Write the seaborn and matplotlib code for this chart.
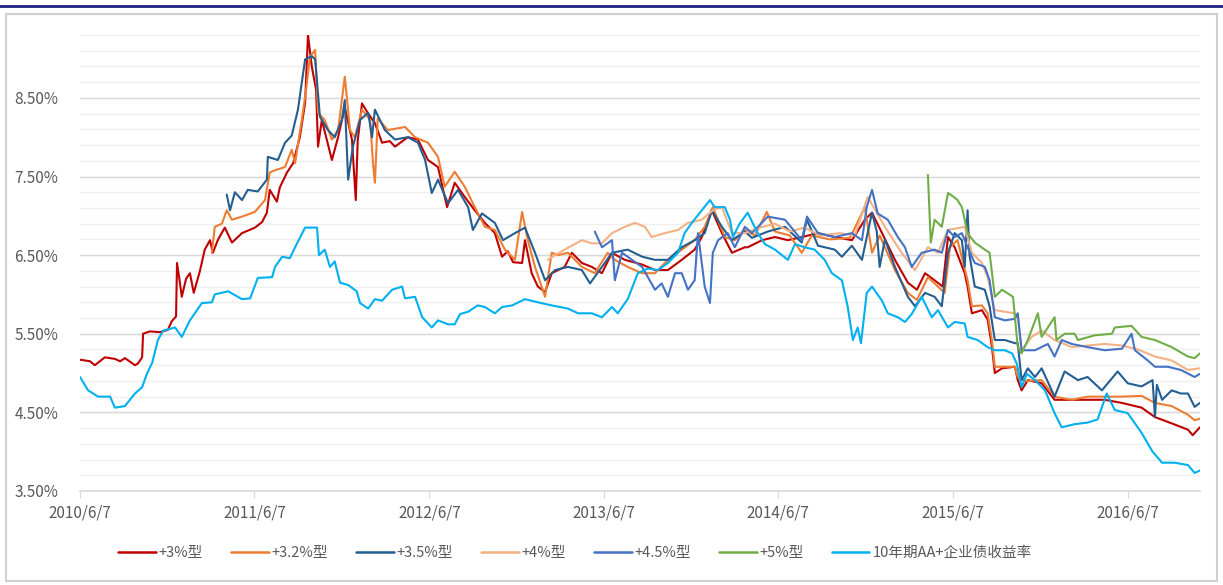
import numpy as np
import pandas as pd
import matplotlib
matplotlib.use("Agg")
import matplotlib.pyplot as plt
from matplotlib.patches import Rectangle
from matplotlib.lines import Line2D
import seaborn as sns

# days since 2010/6/7, yield in %
start = pd.Timestamp("2010-06-07")

s30 = [(0, 5.17), (21, 5.15), (31, 5.10), (52, 5.20), (73, 5.18), (84, 5.15), (94, 5.19), (115, 5.10),
       (121, 5.12), (130, 5.20), (132, 5.50), (146, 5.53), (167, 5.52), (184, 5.55), (192, 5.66), (201, 5.72),
       (203, 6.40), (209, 6.15), (213, 5.97), (222, 6.20), (230, 6.27), (238, 6.02), (251, 6.30), (261, 6.57),
       (272, 6.69), (278, 6.53), (289, 6.70), (303, 6.85), (318, 6.66), (339, 6.78), (366, 6.85), (381, 6.92),
       (391, 7.04), (397, 7.33), (412, 7.18), (418, 7.36), (433, 7.55), (446, 7.67), (460, 8.00), (471, 8.44),
       (477, 9.30), (485, 8.90), (494, 8.60), (498, 7.88), (506, 8.22), (517, 7.95), (527, 7.71), (540, 8.00),
       (554, 8.38), (569, 7.97), (577, 7.20), (581, 7.95), (590, 8.43), (603, 8.30), (617, 8.18), (632, 7.93),
       (648, 7.95), (659, 7.88), (686, 8.00), (707, 7.97), (728, 7.71), (749, 7.62), (768, 7.11), (784, 7.42),
       (805, 7.24), (826, 7.07), (847, 6.91), (868, 6.78), (883, 6.48), (895, 6.55), (906, 6.41), (925, 6.40),
       (931, 6.69), (945, 6.27), (958, 6.10), (973, 6.03), (987, 6.27), (1014, 6.35), (1029, 6.53), (1050, 6.40),
       (1071, 6.35), (1092, 6.27), (1113, 6.53), (1140, 6.44), (1176, 6.38), (1203, 6.31), (1230, 6.31),
       (1259, 6.44), (1286, 6.57), (1301, 6.73), (1322, 7.07), (1343, 6.78), (1364, 6.53), (1391, 6.60),
       (1397, 6.60), (1427, 6.69), (1454, 6.73), (1481, 6.69), (1510, 6.73), (1544, 6.78), (1579, 6.73),
       (1615, 6.69), (1642, 6.95), (1657, 7.04), (1678, 6.78), (1705, 6.44), (1732, 6.15), (1751, 6.06),
       (1768, 6.27), (1788, 6.18), (1805, 6.10), (1816, 6.73), (1830, 6.60), (1851, 6.27), (1857, 6.10),
       (1866, 5.76), (1887, 5.80), (1899, 5.68), (1908, 5.33), (1914, 5.00), (1929, 5.06), (1956, 5.08),
       (1962, 4.91), (1970, 4.78), (1983, 4.91), (2012, 4.87), (2039, 4.66), (2075, 4.66), (2108, 4.66),
       (2144, 4.66), (2180, 4.62), (2221, 4.56), (2249, 4.44), (2284, 4.36), (2318, 4.28), (2328, 4.21),
       (2343, 4.31)]

s32 = [(276, 6.53), (282, 6.86), (297, 6.90), (307, 7.07), (318, 6.95), (339, 6.99), (366, 7.05), (387, 7.20),
       (397, 7.55), (408, 7.58), (429, 7.62), (443, 7.84), (450, 7.67), (464, 8.22), (473, 8.60), (481, 9.02),
       (492, 9.11), (498, 8.31), (512, 8.22), (527, 7.97), (540, 8.09), (554, 8.77), (565, 8.09), (575, 8.00),
       (590, 8.35), (607, 8.22), (613, 7.67), (617, 7.42), (623, 8.24), (644, 8.09), (680, 8.13), (701, 8.00),
       (728, 7.93), (749, 7.75), (763, 7.37), (784, 7.56), (805, 7.37), (826, 7.11), (847, 6.86), (868, 6.82),
       (889, 6.57), (910, 6.44), (925, 7.05), (937, 6.69), (952, 6.35), (973, 5.97), (987, 6.53), (1000, 6.50),
       (1021, 6.53), (1050, 6.35), (1077, 6.27), (1104, 6.53), (1119, 6.44), (1146, 6.35), (1176, 6.27),
       (1203, 6.27), (1230, 6.44), (1259, 6.57), (1286, 6.69), (1307, 6.86), (1324, 7.11), (1349, 6.73),
       (1370, 6.69), (1391, 6.82), (1412, 6.75), (1437, 7.05), (1454, 6.80), (1485, 6.75), (1510, 6.53),
       (1531, 6.75), (1569, 6.70), (1611, 6.72), (1642, 7.11), (1657, 6.53), (1673, 6.75), (1705, 6.31),
       (1732, 6.02), (1751, 5.93), (1774, 6.22), (1795, 6.10), (1809, 6.02), (1820, 6.60), (1836, 6.69),
       (1857, 6.18), (1866, 5.85), (1887, 5.86), (1899, 5.76), (1908, 5.41), (1914, 5.08), (1956, 5.08),
       (1962, 4.95), (1977, 4.90), (2012, 4.91), (2039, 4.70), (2075, 4.66), (2108, 4.70), (2144, 4.70),
       (2180, 4.70), (2221, 4.71), (2249, 4.62), (2284, 4.58), (2318, 4.47), (2332, 4.40), (2343, 4.42)]

s35 = [(307, 7.27), (314, 7.07), (324, 7.30), (339, 7.20), (351, 7.33), (372, 7.31), (391, 7.46), (393, 7.75),
       (414, 7.71), (429, 7.93), (443, 8.02), (456, 8.35), (471, 8.99), (485, 9.03), (492, 8.99), (502, 8.26),
       (519, 8.09), (533, 8.00), (548, 8.22), (554, 8.47), (561, 7.46), (571, 7.88), (586, 8.22), (603, 8.31),
       (611, 8.00), (617, 8.35), (638, 8.09), (659, 7.97), (686, 8.00), (707, 7.93), (722, 7.71), (736, 7.29),
       (749, 7.46), (770, 7.16), (791, 7.33), (812, 7.11), (822, 6.82), (841, 7.03), (868, 6.91), (885, 6.69),
       (910, 6.78), (931, 6.85), (952, 6.53), (973, 6.18), (994, 6.31), (1021, 6.35), (1050, 6.31),
       (1067, 6.14), (1092, 6.35), (1113, 6.53), (1146, 6.57), (1176, 6.48), (1203, 6.44), (1230, 6.44),
       (1259, 6.60), (1286, 6.69), (1307, 6.78), (1322, 7.07), (1343, 6.86), (1364, 6.69), (1391, 6.80),
       (1406, 6.72), (1439, 6.80), (1475, 6.86), (1510, 6.66), (1521, 6.95), (1544, 6.62), (1579, 6.57),
       (1594, 6.48), (1615, 6.62), (1636, 6.44), (1657, 7.04), (1667, 6.80), (1673, 6.35), (1684, 6.70),
       (1705, 6.35), (1732, 5.97), (1747, 5.85), (1768, 6.02), (1788, 5.97), (1803, 5.85), (1816, 6.53),
       (1830, 6.78), (1845, 6.69), (1851, 6.35), (1857, 7.07), (1861, 6.50), (1872, 6.10), (1893, 6.06),
       (1903, 5.85), (1914, 5.42), (1935, 5.42), (1956, 5.38), (1962, 5.38), (1970, 4.91), (1983, 5.06),
       (1998, 4.95), (2012, 5.06), (2039, 4.70), (2060, 5.02), (2088, 4.91), (2108, 4.95), (2138, 4.78),
       (2171, 5.02), (2192, 4.87), (2221, 4.83), (2244, 4.91), (2249, 4.44), (2253, 4.85), (2264, 4.66),
       (2284, 4.78), (2303, 4.74), (2318, 4.74), (2332, 4.57), (2343, 4.62)]

s40 = [(979, 6.44), (994, 6.50), (1014, 6.57), (1050, 6.69), (1071, 6.65), (1092, 6.65), (1113, 6.78),
       (1140, 6.86), (1161, 6.91), (1182, 6.86), (1196, 6.73), (1224, 6.78), (1251, 6.82), (1272, 6.91),
       (1301, 6.95), (1324, 7.07), (1343, 7.11), (1364, 6.78), (1391, 6.78), (1422, 6.85), (1454, 6.90),
       (1485, 6.80), (1516, 6.85), (1548, 6.75), (1590, 6.78), (1621, 6.75), (1648, 7.24), (1684, 6.86),
       (1719, 6.53), (1747, 6.31), (1774, 6.60), (1795, 6.53), (1816, 6.82), (1851, 6.86), (1866, 6.53),
       (1887, 6.40), (1899, 6.22), (1914, 5.80), (1935, 5.78), (1956, 5.76), (1962, 5.70), (1970, 5.29),
       (1991, 5.46), (2012, 5.54), (2039, 5.42), (2075, 5.33), (2108, 5.35), (2144, 5.37), (2180, 5.35),
       (2213, 5.30), (2249, 5.21), (2284, 5.16), (2318, 5.04), (2343, 5.06)]

s45 = [(1077, 6.80), (1092, 6.60), (1113, 6.69), (1119, 6.18), (1134, 6.53), (1155, 6.44), (1176, 6.35),
       (1203, 6.06), (1217, 6.14), (1230, 5.97), (1245, 6.27), (1259, 6.27), (1272, 6.06), (1286, 6.18),
       (1293, 6.78), (1307, 6.10), (1318, 5.89), (1324, 6.53), (1335, 6.69), (1355, 6.78), (1370, 6.60),
       (1391, 6.86), (1406, 6.78), (1439, 6.99), (1475, 6.95), (1510, 6.69), (1521, 6.99), (1544, 6.78),
       (1579, 6.73), (1615, 6.78), (1636, 6.69), (1646, 7.11), (1657, 7.33), (1669, 7.03), (1690, 6.95),
       (1711, 6.73), (1726, 6.60), (1740, 6.35), (1761, 6.53), (1788, 6.57), (1803, 6.53), (1816, 6.82),
       (1830, 6.73), (1845, 6.78), (1857, 6.60), (1872, 6.40), (1893, 6.35), (1903, 6.18), (1914, 5.71),
       (1935, 5.67), (1956, 5.69), (1962, 5.76), (1970, 5.29), (1998, 5.29), (2025, 5.37), (2039, 5.21),
       (2054, 5.42), (2075, 5.37), (2108, 5.33), (2144, 5.29), (2180, 5.31), (2200, 5.50), (2207, 5.29),
       (2234, 5.16), (2249, 5.08), (2276, 5.08), (2303, 5.04), (2332, 4.95), (2343, 4.99)]

s50 = [(1774, 7.52), (1780, 6.66), (1788, 6.95), (1803, 6.86), (1816, 7.29), (1826, 7.25), (1836, 7.20),
       (1845, 7.11), (1851, 6.95), (1857, 6.78), (1872, 6.66), (1893, 6.57), (1903, 6.53), (1914, 5.97),
       (1929, 6.06), (1952, 5.97), (1962, 5.33), (1970, 5.25), (1983, 5.42), (2004, 5.76), (2012, 5.46),
       (2039, 5.71), (2043, 5.42), (2060, 5.50), (2081, 5.50), (2088, 5.42), (2123, 5.48), (2159, 5.50),
       (2165, 5.58), (2200, 5.60), (2221, 5.46), (2249, 5.42), (2284, 5.33), (2318, 5.21), (2332, 5.19),
       (2343, 5.25)]

aa10 = [(0, 4.95), (17, 4.78), (38, 4.70), (63, 4.70), (73, 4.56), (94, 4.58), (115, 4.74), (130, 4.82),
        (140, 4.99), (151, 5.13), (163, 5.42), (174, 5.54), (199, 5.58), (213, 5.46), (230, 5.67), (255, 5.89),
        (276, 5.90), (282, 6.00), (310, 6.04), (339, 5.94), (356, 5.95), (372, 6.21), (402, 6.22), (408, 6.35),
        (423, 6.48), (439, 6.46), (450, 6.60), (471, 6.85), (496, 6.85), (500, 6.50), (512, 6.57), (523, 6.35),
        (533, 6.42), (544, 6.15), (561, 6.12), (579, 6.04), (586, 5.89), (603, 5.82), (617, 5.94), (632, 5.92),
        (653, 6.06), (674, 6.10), (680, 5.95), (701, 5.97), (716, 5.71), (736, 5.58), (749, 5.67), (770, 5.62),
        (784, 5.62), (795, 5.75), (812, 5.78), (832, 5.86), (847, 5.84), (868, 5.76), (883, 5.84), (904, 5.86),
        (931, 5.94), (958, 5.90), (987, 5.86), (1021, 5.82), (1042, 5.76), (1071, 5.76), (1092, 5.71),
        (1113, 5.84), (1125, 5.76), (1146, 5.94), (1167, 6.27), (1188, 6.33), (1209, 6.31), (1230, 6.40),
        (1251, 6.53), (1265, 6.78), (1280, 6.91), (1301, 7.07), (1318, 7.20), (1328, 7.11), (1349, 7.11),
        (1360, 6.95), (1366, 6.73), (1380, 6.90), (1397, 7.04), (1408, 6.90), (1418, 6.78), (1433, 6.64),
        (1454, 6.57), (1481, 6.44), (1496, 6.64), (1516, 6.60), (1537, 6.57), (1558, 6.44), (1573, 6.27),
        (1594, 6.18), (1606, 5.85), (1617, 5.42), (1627, 5.58), (1634, 5.38), (1646, 6.02), (1657, 6.10),
        (1678, 5.92), (1690, 5.76), (1711, 5.71), (1726, 5.65), (1740, 5.75), (1761, 5.97), (1782, 5.71),
        (1795, 5.80), (1816, 5.58), (1830, 5.65), (1851, 5.63), (1857, 5.46), (1878, 5.42), (1899, 5.33),
        (1914, 5.29), (1935, 5.29), (1950, 5.25), (1960, 5.12), (1970, 4.82), (1981, 4.99), (1998, 4.91),
        (2019, 4.78), (2039, 4.49), (2054, 4.31), (2081, 4.35), (2108, 4.37), (2129, 4.41), (2148, 4.74),
        (2165, 4.53), (2192, 4.49), (2221, 4.24), (2244, 4.00), (2264, 3.86), (2290, 3.86), (2318, 3.83),
        (2332, 3.73), (2343, 3.76)]

names = ["+3%型", "+3.2%型", "+3.5%型", "+4%型", "+4.5%型", "+5%型", "10年期AA+企业债收益率"]
colors = ["#C00000", "#ED7D31", "#255E91", "#F4B183", "#4472C4", "#70AD47", "#00B0F0"]
tick_labels = ["2010/6/7", "2011/6/7", "2012/6/7", "2013/6/7", "2014/6/7", "2015/6/7", "2016/6/7"]

rows = []
for name, series in zip(names, [s30, s32, s35, s40, s45, s50, aa10]):
    for d, v in series:
        rows.append((name, start + pd.Timedelta(days=d), v))
df = pd.DataFrame(rows, columns=["series", "date", "value"])

sns.set_style("white")
plt.rcParams["font.family"] = ["Noto Sans CJK SC", "DejaVu Sans"]

fig = plt.figure(figsize=(12.23, 5.85), dpi=100)
ax = fig.add_axes([0.0654, 0.1607, 0.9157, 0.7795])

# gridlines: light every 0.2%, darker every 1%
for g in np.arange(3.7, 9.31, 0.2):
    ax.axhline(g, color="#efefef", lw=1, zorder=0)
for g in np.arange(4.5, 9.0, 1.0):
    ax.axhline(g, color="#d9d9d9", lw=1, zorder=0.5)

sns.lineplot(data=df, x="date", y="value", hue="series", hue_order=names,
             palette=colors, estimator=None, sort=True, lw=1.5, ax=ax, legend=False)

ax.set_ylim(3.5, 9.3)
ax.set_xlim(start, start + pd.Timedelta(days=2343))
ax.set_yticks(np.arange(3.5, 9.0, 1.0))
ax.set_yticklabels([f"{t:.2f}%" for t in np.arange(3.5, 9.0, 1.0)])
ticks = [pd.Timestamp(t.replace("/", "-")) for t in tick_labels]
ax.set_xticks(ticks)
ax.set_xticklabels(tick_labels)
ax.set_xlabel("")
ax.set_ylabel("")

for s in ["left", "right", "top"]:
    ax.spines[s].set_visible(False)
ax.spines["bottom"].set_color("#d9d9d9")
ax.spines["bottom"].set_linewidth(1.2)
ax.tick_params(axis="x", bottom=True, length=5, color="#d9d9d9", labelsize=11,
               labelcolor="#595959", pad=5)
ax.tick_params(axis="y", left=False, labelsize=11, labelcolor="#595959", pad=12)

handles = [Line2D([0], [0], color=c, lw=1.8) for c in colors]
fig.legend(handles, names, loc="center", bbox_to_anchor=(0.47, 0.055), ncol=7, frameon=False,
           fontsize=10.5, handlelength=2.6, handletextpad=0.2, columnspacing=1.9, labelcolor="#595959")

# outer frame and top rule
fig.patches.append(Rectangle((6 / 1223, 4 / 585), 1211 / 1223, 567 / 585, transform=fig.transFigure,
                             fill=False, edgecolor="#d0d0d0", lw=1.5))
fig.add_artist(Line2D([0, 1], [1 - 6 / 585, 1 - 6 / 585], transform=fig.transFigure,
                      color="#1F1F80", lw=2))

fig.savefig("out.png", dpi=100)
